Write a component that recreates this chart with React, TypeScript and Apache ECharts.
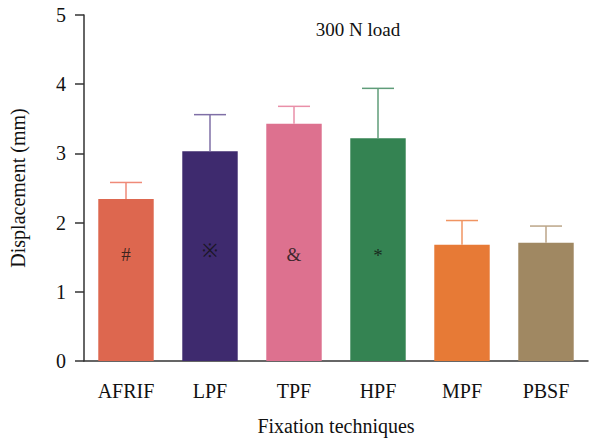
import React, { useEffect, useRef } from "react";
import * as echarts from "echarts";

const categories = ["AFRIF", "LPF", "TPF", "HPF", "MPF", "PBSF"];
const means = [2.34, 3.03, 3.43, 3.22, 1.68, 1.71];
const upper = [2.58, 3.56, 3.68, 3.94, 2.03, 1.95];
const marks = ["#", "※", "&", "*", "", ""];
const markY = [1.54, 1.6, 1.54, 1.53, 0, 0];
const barColors = ["#dd674f", "#3e2a6e", "#dd718f", "#348352", "#e77a36", "#a08862"];
const errColors = ["#ef8a78", "#7f6fa6", "#e98fa8", "#5f9c79", "#f09462", "#bba588"];
const yTicks = [0, 1, 2, 3, 4, 5];

const FONT = "'Liberation Serif', 'DejaVu Serif', serif";

export default function App() {
  const ref = useRef<HTMLDivElement>(null);
  useEffect(() => {
    const chart = echarts.init(ref.current!, null, { renderer: "svg" });
    chart.setOption({
      animation: false,
      title: {
        text: "300 N load",
        left: 353,
        top: 15,
        textAlign: "center",
        textStyle: { fontFamily: FONT, fontSize: 19, fontWeight: "normal", color: "#111" },
      },
      grid: { left: 80, right: 9, top: 15, bottom: 77 },
      xAxis: {
        type: "category",
        data: categories,
        name: "Fixation techniques",
        nameLocation: "middle",
        nameGap: 55,
        nameTextStyle: { fontFamily: FONT, fontSize: 20, color: "#111" },
        axisLine: { lineStyle: { color: "#333", width: 1.5 } },
        axisTick: { alignWithLabel: true, length: 10, lineStyle: { color: "#333", width: 1.5 } },
        axisLabel: { fontFamily: FONT, fontSize: 20, color: "#111", margin: 20 },
      },
      yAxis: {
        type: "value",
        min: yTicks[0],
        max: yTicks[yTicks.length - 1],
        interval: 1,
        name: "Displacement (mm)",
        nameLocation: "middle",
        nameGap: 56,
        nameRotate: 90,
        nameTextStyle: { fontFamily: FONT, fontSize: 20, color: "#111" },
        axisLine: { show: true, lineStyle: { color: "#333", width: 1.5 } },
        axisTick: { show: true, length: 9, lineStyle: { color: "#333", width: 1.5 } },
        axisLabel: { fontFamily: FONT, fontSize: 20, color: "#111", margin: 18 },
        splitLine: { show: false },
      },
      series: [
        {
          type: "bar",
          barWidth: "66%",
          data: means.map((v, i) => ({ value: v, itemStyle: { color: barColors[i] } })),
          z: 2,
        },
        {
          type: "custom",
          z: 3,
          data: categories.map((c, i) => [i, means[i], upper[i]]),
          renderItem: (params: any, api: any) => {
            const i = api.value(0);
            const base = api.coord([i, api.value(1)]);
            const top = api.coord([i, api.value(2)]);
            const half = 16;
            const color = errColors[params.dataIndex];
            return {
              type: "group",
              children: [
                {
                  type: "line",
                  shape: { x1: base[0], y1: base[1], x2: top[0], y2: top[1] },
                  style: { stroke: color, lineWidth: 1.5 },
                },
                {
                  type: "line",
                  shape: { x1: top[0] - half, y1: top[1], x2: top[0] + half, y2: top[1] },
                  style: { stroke: color, lineWidth: 1.5 },
                },
              ],
            };
          },
        },
        {
          type: "scatter",
          z: 4,
          symbolSize: 0,
          data: categories
            .map((c, i) => ({ value: [i, markY[i]], name: marks[i] }))
            .filter((d) => d.name !== ""),
          label: {
            show: true,
            position: "inside",
            formatter: (p: any) => p.name,
            fontFamily: FONT,
            fontSize: 19,
            color: "#111",
          },
        },
      ],
    });
    return () => chart.dispose();
  }, []);
  return (
    <div
      ref={ref}
      style={{ position: "absolute", left: 0, top: 0, width: 597, height: 441 }}
    />
  );
}
